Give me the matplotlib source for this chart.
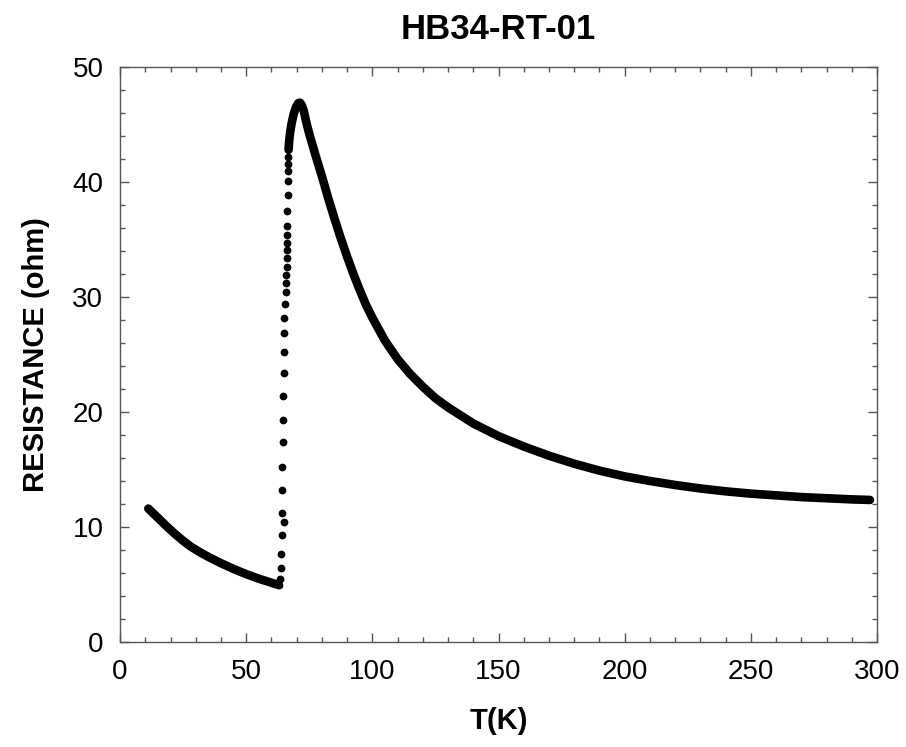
import matplotlib
matplotlib.use("Agg")
import matplotlib.pyplot as plt
from matplotlib.ticker import MultipleLocator

plt.rcParams['font.family'] = ['Liberation Sans', 'DejaVu Sans']

# low temperature branch (dense points)
t_low = [11.2, 15.0, 18.5, 22.0, 25.0, 28.0, 31.7, 35.0, 40.0, 45.0, 50.0,
         55.0, 60.0, 62.7]
r_low = [11.6, 10.8, 10.05, 9.35, 8.8, 8.3, 7.8, 7.4, 6.85, 6.35, 5.9,
         5.5, 5.15, 4.96]

# jump near the transition (sparse points)
t_rise = [63.1, 63.5, 63.7, 63.9, 64.1, 64.9, 64.1, 64.3, 64.3, 64.5, 64.6,
          64.7, 64.9, 64.9, 65.0, 65.1, 65.4, 65.7, 65.8, 65.8, 66.1, 66.1,
          66.1, 66.2, 66.3, 66.3, 66.3, 66.5, 66.7, 66.7, 66.7, 66.7]
r_rise = [4.96, 5.5, 6.45, 7.65, 9.3, 10.4, 11.2, 13.2, 15.2, 17.4, 19.3,
          21.4, 23.4, 25.2, 26.9, 28.2, 29.4, 30.4, 31.2, 31.9, 32.6, 33.4,
          34.1, 34.7, 35.4, 36.2, 37.5, 38.9, 40.1, 40.96, 41.6, 42.2]

# peak and high temperature branch (dense points)
t_high = [66.8, 67.0, 67.4, 68.0, 68.8, 69.7, 70.6, 71.3, 72.0, 72.8, 73.6,
          74.5, 75.5, 77.5, 80.0, 82.5, 85.0, 87.5, 90.0, 92.5, 95.0, 97.5,
          100.0, 105.0, 110.0, 115.0, 120.0, 125.0, 130.0, 135.0, 140.0,
          150.0, 160.0, 170.0, 180.0, 190.0, 200.0, 210.0, 220.0, 230.0,
          240.0, 250.0, 260.0, 270.0, 280.0, 290.0, 297.2]
r_high = [42.8, 43.5, 44.3, 45.1, 45.9, 46.5, 46.85, 46.9, 46.7, 46.2, 45.4,
          44.6, 43.8, 42.3, 40.5, 38.6, 36.8, 35.1, 33.5, 32.0, 30.6, 29.3,
          28.2, 26.2, 24.6, 23.3, 22.2, 21.2, 20.4, 19.7, 19.0,
          17.9, 17.0, 16.2, 15.5, 14.9, 14.4, 14.0, 13.65, 13.35,
          13.1, 12.9, 12.75, 12.6, 12.5, 12.4, 12.35]

fig = plt.figure(figsize=(9.06, 7.47), dpi=100)
ax = fig.add_axes([0.1325, 0.1406, 0.8355, 0.7697])

ax.plot(t_low, r_low, '-', color='black', lw=6.2, solid_capstyle='round',
        solid_joinstyle='round')
ax.plot(t_rise, r_rise, 'o', color='black', ms=5.6, mec='none')
ax.plot(t_high, r_high, '-', color='black', lw=6.2, solid_capstyle='round',
        solid_joinstyle='round')

ax.set_xlim(0, 300)
ax.set_ylim(0, 50)
ax.xaxis.set_major_locator(MultipleLocator(50))
ax.xaxis.set_minor_locator(MultipleLocator(10))
ax.yaxis.set_major_locator(MultipleLocator(10))
ax.yaxis.set_minor_locator(MultipleLocator(2))

for s in ax.spines.values():
    s.set_color('#555555')
    s.set_linewidth(1.0)
ax.tick_params(which='both', direction='in', top=True, right=True,
               color='#555555', width=1.0)
ax.tick_params(which='major', length=6.5, labelsize=20, pad=12)
ax.tick_params(which='minor', length=3.5)

ax.set_title('HB34-RT-01', fontsize=25, fontweight='bold', pad=20)
ax.set_xlabel('T(K)', fontsize=21, fontweight='bold', labelpad=16)
ax.set_ylabel('RESISTANCE (ohm)', fontsize=21, fontweight='bold', labelpad=16)

fig.savefig('out.png', dpi=100)
